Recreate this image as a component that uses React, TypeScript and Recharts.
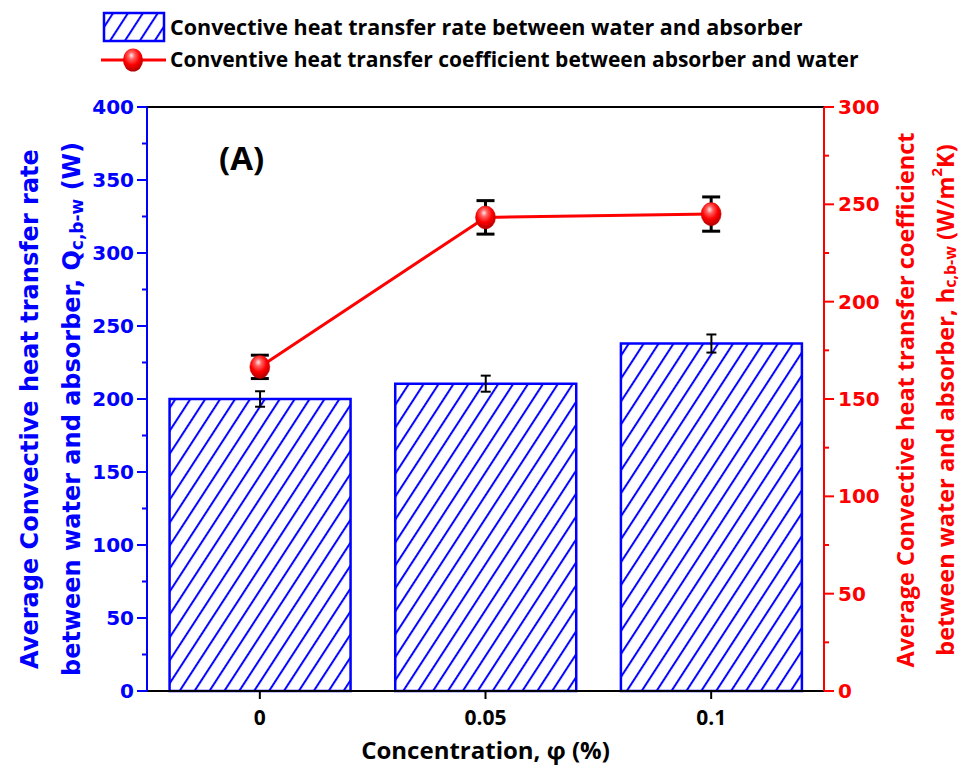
import { Bar, ComposedChart, ErrorBar, Legend, Line, ReferenceLine, XAxis, YAxis } from "recharts";

const categories = ["0", "0.05", "0.1"];
const heatRate = [200, 210.5, 238];
const heatRateErr = [5.3, 5.5, 6.2];
const heatCoef = [166.5, 243.3, 245];
const heatCoefErr = [6, 8.6, 8.8];

const leftTicks = [0, 25, 50, 75, 100, 125, 150, 175, 200, 225, 250, 275, 300, 325, 350, 375, 400];
const rightTicks = [0, 25, 50, 75, 100, 125, 150, 175, 200, 225, 250, 275, 300];
const edgeTicks = [0, 1, 2, 3];

const BLUE = "#0000ff";
const RED = "#ff0000";
const TICK_FONT = "'DejaVu Sans', Verdana, sans-serif";
const TEXT_FONT = "'Open Sans', 'Noto Sans', sans-serif";

const chartData = categories.map((c, i) => ({
  conc: c,
  rate: heatRate[i],
  rateErr: heatRateErr[i],
  coef: heatCoef[i],
  coefErr: heatCoefErr[i],
}));

const LeftTick = (props: any) => {
  const { x, y, payload } = props;
  const major = payload.value % 50 === 0;
  return (
    <g>
      <line x1={x} y1={y} x2={x - (major ? 10 : 5)} y2={y} stroke={BLUE} strokeWidth={2} />
      {major && (
        <text x={x - 13} y={y + 7} textAnchor="end" fill={BLUE} fontFamily={TICK_FONT} fontWeight="bold" fontSize={20}>
          {payload.value}
        </text>
      )}
    </g>
  );
};

const RightTick = (props: any) => {
  const { x, y, payload } = props;
  const major = payload.value % 50 === 0;
  return (
    <g>
      <line x1={x} y1={y} x2={x + (major ? 10 : 5)} y2={y} stroke={RED} strokeWidth={2} />
      {major && (
        <text x={x + 14} y={y + 7} textAnchor="start" fill={RED} fontFamily={TICK_FONT} fontWeight="bold" fontSize={20}>
          {payload.value}
        </text>
      )}
    </g>
  );
};

const CatTick = (props: any) => {
  const { x, y, payload } = props;
  return (
    <g>
      <line x1={x} y1={y} x2={x} y2={y + 8} stroke="#000" strokeWidth={2} />
      <text x={x} y={y + 34} textAnchor="middle" fill="#000" fontFamily={TEXT_FONT} fontWeight="bold" fontSize={21}>
        {payload.value}
      </text>
    </g>
  );
};

const EdgeTick = (props: any) => {
  const { x, y } = props;
  return <line x1={x} y1={y} x2={x} y2={y + 8} stroke="#000" strokeWidth={2} />;
};

const LeftTitle = (props: any) => {
  const { viewBox } = props;
  const cy = viewBox.y + viewBox.height / 2 + 10;
  return (
    <g fill={BLUE} fontFamily={TICK_FONT} fontWeight="bold" fontSize={24}>
      <text x={30} y={cy} textAnchor="middle" dominantBaseline="central" transform={`rotate(-90 30 ${cy})`}>
        Average Convective heat transfer rate
      </text>
      <text x={72} y={cy} textAnchor="middle" dominantBaseline="central" transform={`rotate(-90 72 ${cy})`}>
        between water and absorber, Q<tspan fontSize={17} dy={5}>c,b-w</tspan>
        <tspan dy={-5}> (W)</tspan>
      </text>
    </g>
  );
};

const RightTitle = (props: any) => {
  const { viewBox } = props;
  const cy = viewBox.y + viewBox.height / 2 + 1;
  return (
    <g fill={RED} fontFamily={TEXT_FONT} fontWeight="bold" fontSize={23.5}>
      <text x={905} y={cy} textAnchor="middle" dominantBaseline="central" transform={`rotate(-90 905 ${cy})`}>
        Average Convective heat transfer coefficienct
      </text>
      <text x={945} y={cy} textAnchor="middle" dominantBaseline="central" transform={`rotate(-90 945 ${cy})`}>
        between water and absorber, h<tspan fontSize={16} dy={5}>c,b-w</tspan>
        <tspan dy={-5}> (W/m</tspan>
        <tspan fontSize={15} dy={-9}>2</tspan>
        <tspan dy={9}>K)</tspan>
      </text>
    </g>
  );
};

const BottomTitle = (props: any) => {
  const { viewBox } = props;
  const cx = viewBox.x + viewBox.width / 2;
  return (
    <text x={cx} y={759} textAnchor="middle" fill="#000" fontFamily={TEXT_FONT} fontWeight="bold" fontSize={24}>
      Concentration, φ (%)
    </text>
  );
};

const Sphere = (props: any) => {
  const { cx, cy } = props;
  if (cx == null || cy == null) return null;
  return <ellipse cx={cx} cy={cy} rx={10} ry={11.5} fill="url(#sphereGrad)" stroke="#d00000" strokeWidth={0.5} />;
};

const renderLegend = () => (
  <svg width={900} height={80} style={{ display: "block" }}>
    <rect x={104} y={13} width={60} height={28} fill="url(#hatch)" stroke={BLUE} strokeWidth={2.5} />
    <text x={170} y={35} fill="#000" fontFamily={TEXT_FONT} fontWeight="bold" fontSize={21.5}>
      Convective heat transfer rate between water and absorber
    </text>
    <line x1={101} y1={60} x2={166} y2={60} stroke={RED} strokeWidth={3} />
    <ellipse cx={133} cy={60} rx={10} ry={11.5} fill="url(#sphereGrad)" />
    <text x={170} y={67} fill="#000" fontFamily={TEXT_FONT} fontWeight="bold" fontSize={21}>
      Conventive heat transfer coefficient between absorber and water
    </text>
  </svg>
);

export default function App() {
  return (
    <div style={{ position: "absolute", left: 0, top: 0, width: 960, height: 767, background: "#fff" }}>
      <svg width={0} height={0} style={{ position: "absolute" }}>
        <defs>
          <pattern id="hatch" patternUnits="userSpaceOnUse" width={12.5} height={12.5} patternTransform="rotate(33)">
            <line x1={2} y1={0} x2={2} y2={12.5} stroke={BLUE} strokeWidth={2} />
          </pattern>
          <radialGradient id="sphereGrad" cx="45%" cy="35%" r="65%" fx="42%" fy="30%">
            <stop offset="0%" stopColor="#ffe8e8" />
            <stop offset="25%" stopColor="#ff6060" />
            <stop offset="60%" stopColor="#ff0000" />
            <stop offset="100%" stopColor="#b00000" />
          </radialGradient>
        </defs>
      </svg>
      <ComposedChart
        width={960}
        height={767}
        data={chartData}
        margin={{ top: 107, right: 76, bottom: 46, left: 87 }}
        barCategoryGap="10%"
      >
        <XAxis
          xAxisId="edge"
          type="number"
          domain={[0, 3]}
          ticks={edgeTicks}
          height={0}
          axisLine={false}
          tickLine={false}
          tickSize={0}
          tickMargin={0}
          tick={<EdgeTick />}
        />
        <XAxis
          xAxisId="cat"
          dataKey="conc"
          height={30}
          axisLine={{ stroke: "#000", strokeWidth: 2 }}
          tickLine={false}
          tickSize={0}
          tickMargin={0}
          tick={<CatTick />}
          label={{ content: BottomTitle }}
        />
        <YAxis
          yAxisId="left"
          width={60}
          domain={[0, 400]}
          ticks={leftTicks}
          interval={0}
          axisLine={{ stroke: BLUE, strokeWidth: 2 }}
          tickLine={false}
          tickSize={0}
          tickMargin={0}
          tick={<LeftTick />}
          label={{ content: LeftTitle }}
        />
        <YAxis
          yAxisId="right"
          orientation="right"
          width={60}
          domain={[0, 300]}
          ticks={rightTicks}
          interval={0}
          axisLine={{ stroke: RED, strokeWidth: 2 }}
          tickLine={false}
          tickSize={0}
          tickMargin={0}
          tick={<RightTick />}
          label={{ content: RightTitle }}
        />
        <ReferenceLine yAxisId="left" xAxisId="cat" y={400} stroke="#000" strokeWidth={2} />
        <Bar
          xAxisId="cat"
          yAxisId="left"
          dataKey="rate"
          fill="url(#hatch)"
          stroke={BLUE}
          strokeWidth={2.5}
          isAnimationActive={false}
        >
          <ErrorBar dataKey="rateErr" width={5} stroke="#000" strokeWidth={2} />
        </Bar>
        <Line
          xAxisId="cat"
          yAxisId="right"
          dataKey="coef"
          stroke={RED}
          strokeWidth={3}
          dot={<Sphere />}
          activeDot={false}
          isAnimationActive={false}
        >
          <ErrorBar dataKey="coefErr" width={9} stroke="#000" strokeWidth={3} />
        </Line>
        <Legend
          layout="horizontal"
          verticalAlign="middle"
          align="center"
          content={renderLegend}
          wrapperStyle={{ position: "absolute", left: 0, top: 0, width: 900, height: 80 }}
        />
      </ComposedChart>
      <div
        style={{
          position: "absolute",
          left: 219,
          top: 136,
          fontFamily: "'Open Sans', sans-serif",
          fontWeight: "bold",
          fontSize: 33,
          color: "#000",
          lineHeight: "44px",
        }}
      >
        (A)
      </div>
    </div>
  );
}
